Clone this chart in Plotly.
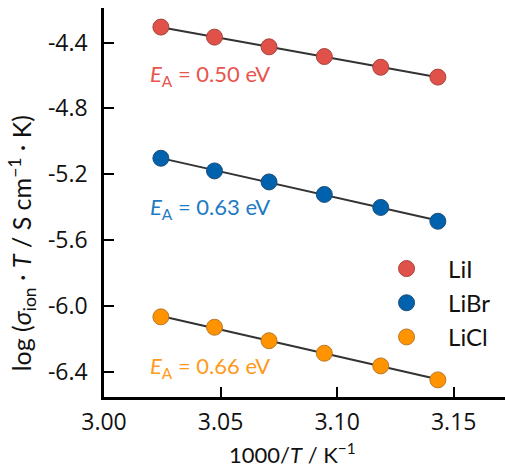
import numpy as np
import plotly.graph_objects as go

# 1000/T values (K^-1)
inv_T = [3.0244, 3.0474, 3.0708, 3.0945, 3.1187, 3.1432]

series_names = ["LiI", "LiBr", "LiCl"]
log_sigma_T = {
    "LiI":  [-4.306, -4.367, -4.426, -4.485, -4.550, -4.610],
    "LiBr": [-5.103, -5.180, -5.247, -5.323, -5.402, -5.486],
    "LiCl": [-6.067, -6.130, -6.212, -6.288, -6.365, -6.450],
}
activation_energy = {"LiI": "0.50", "LiBr": "0.63", "LiCl": "0.66"}

x_ticks = [3.00, 3.05, 3.10, 3.15]
y_ticks = [-6.4, -6.0, -5.6, -5.2, -4.8, -4.4]

marker_colors = {"LiI": "#E0514A", "LiBr": "#0062AD", "LiCl": "#FF9300"}
edge_colors = {"LiI": "#A8443E", "LiBr": "#1D4F7A", "LiCl": "#B87A2A"}
text_colors = {"LiI": "#E8554E", "LiBr": "#1F7AC4", "LiCl": "#FF9A1C"}
label_y = {"LiI": -4.596, "LiBr": -5.405, "LiCl": -6.374}

FONT = "Lato, 'Open Sans', sans-serif"
TICKFONT = "'Open Sans', Lato, sans-serif"

fig = go.Figure()

# fit lines
for name in series_names:
    y = np.array(log_sigma_T[name])
    x = np.array(inv_T)
    m, b = np.polyfit(x, y, 1)
    xs = [x.min(), x.max()]
    fig.add_trace(go.Scatter(
        x=xs, y=[m * v + b for v in xs], mode="lines",
        line=dict(color="#333333", width=2), showlegend=False, hoverinfo="skip"))

for name in series_names:
    fig.add_trace(go.Scatter(
        x=inv_T, y=log_sigma_T[name], mode="markers", name=name,
        legendgroup=name,
        marker=dict(size=16, color=marker_colors[name],
                    line=dict(color=edge_colors[name], width=1))))

for name in series_names:
    fig.add_annotation(
        x=3.0189, y=label_y[name], xref="x", yref="y",
        xanchor="left", yanchor="middle", showarrow=False,
        text="<i>E</i><sub>A</sub> = %s eV" % activation_energy[name],
        font=dict(family=FONT, size=22, color=text_colors[name]))

# axis titles as annotations (positioned in paper coordinates)
fig.add_annotation(
    x=-0.2045, y=0.395, xref="paper", yref="paper", showarrow=False,
    xanchor="center", yanchor="middle",
    text="log (<i>σ</i><sub>ion</sub> · <i>T</i> / S cm<sup>−1</sup> · K)",
    textangle=-90, font=dict(family=FONT, size=25, color="#111111"))
fig.add_annotation(
    x=0.471, y=-0.144, xref="paper", yref="paper", showarrow=False,
    xanchor="center", yanchor="middle",
    text="1000/<i>T</i> / K<sup>−1</sup>",
    font=dict(family=FONT, size=22, color="#111111"))

fig.update_layout(
    width=505, height=468,
    margin=dict(l=104, r=0, t=8, b=71),
    paper_bgcolor="white", plot_bgcolor="white",
    font=dict(family=FONT, size=23, color="#111111"),
    showlegend=True,
    legend=dict(x=0.651, y=0.387, xanchor="left", yanchor="top",
                bgcolor="rgba(0,0,0,0)", font=dict(size=24, family=FONT),
                tracegroupgap=0, itemwidth=73),
    xaxis=dict(
        range=[3.0, 3.172], tickmode="array", tickvals=x_ticks,
        ticktext=["%.2f" % v for v in x_ticks],
        tickfont=dict(family=TICKFONT, size=23),
        ticks="inside", ticklen=10, tickwidth=2, tickcolor="black",
        showline=True, linewidth=2.5, linecolor="black",
        showgrid=False, zeroline=False, ticklabelstandoff=3),
    yaxis=dict(
        range=[-6.554, -4.19], tickmode="array", tickvals=y_ticks,
        ticktext=["%.1f" % v for v in y_ticks],
        tickfont=dict(family=TICKFONT, size=23),
        ticks="inside", ticklen=10, tickwidth=2, tickcolor="black",
        showline=True, linewidth=2.5, linecolor="black",
        showgrid=False, zeroline=False, ticklabelstandoff=9),
)

fig.write_html("out.html")
